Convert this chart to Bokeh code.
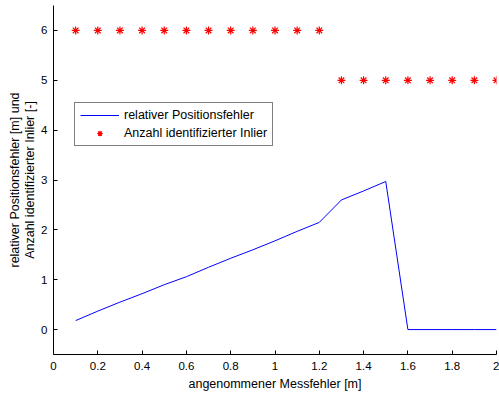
from bokeh.plotting import figure
from bokeh.models import Range1d, FixedTicker, Legend, LegendItem
from bokeh.embed import file_html
from bokeh.resources import INLINE

# data
messfehler = [0.1, 0.2, 0.3, 0.4, 0.5, 0.6, 0.7, 0.8, 0.9, 1.0,
              1.1, 1.2, 1.3, 1.4, 1.5, 1.6, 1.7, 1.8, 1.9, 2.0]
positionsfehler = [0.18, 0.37, 0.55, 0.72, 0.90, 1.06, 1.25, 1.43, 1.60, 1.78,
                   1.97, 2.15, 2.60, 2.78, 2.97, 0.0, 0.0, 0.0, 0.0, 0.0]
inlier = [6, 6, 6, 6, 6, 6, 6, 6, 6, 6,
          6, 6, 5, 5, 5, 5, 5, 5, 5, 5]
x_ticks = [0, 0.2, 0.4, 0.6, 0.8, 1, 1.2, 1.4, 1.6, 1.8, 2]
x_tick_labels = ["0", "0.2", "0.4", "0.6", "0.8", "1", "1.2", "1.4", "1.6", "1.8", "2"]
y_ticks = [0, 1, 2, 3, 4, 5, 6]

FONT = "Liberation Sans"

p = figure(width=499, height=394, output_backend="svg", toolbar_location=None,
           x_range=Range1d(0, 2), y_range=Range1d(-0.5, 6.5),
           min_border_left=53, min_border_right=3, min_border_top=5, min_border_bottom=40)
p.outline_line_color = None
p.xgrid.grid_line_color = None
p.ygrid.grid_line_color = None

r_line = p.line(messfehler, positionsfehler, line_color="#0000ff", line_width=1)
r_pts = p.scatter(messfehler, inlier, marker="asterisk", size=8, line_color="#ff0000", line_width=1.2)

for ax in (p.xaxis[0], p.yaxis[0]):
    ax.major_tick_in = 4
    ax.major_tick_out = 0
    ax.minor_tick_line_color = None
    ax.axis_line_color = "black"
    ax.major_tick_line_color = "black"
    ax.major_label_text_font = FONT
    ax.major_label_text_font_size = "11.5px"
    ax.major_label_text_color = "black"
    ax.axis_label_text_font = FONT
    ax.axis_label_text_font_size = "12.5px"
    ax.axis_label_text_font_style = "normal"
    ax.axis_label_text_color = "black"

p.xaxis[0].ticker = FixedTicker(ticks=x_ticks)
p.xaxis[0].major_label_overrides = {t: l for t, l in zip(x_ticks, x_tick_labels)}
p.xaxis[0].major_label_standoff = 7
p.xaxis[0].axis_label = "angenommener Messfehler [m]"
p.xaxis[0].axis_label_standoff = 4

p.yaxis[0].ticker = FixedTicker(ticks=y_ticks)
p.yaxis[0].major_label_standoff = 6
p.yaxis[0].axis_label = "relativer Positionsfehler [m] und\nAnzahl identifizierter Inlier [-]"
p.yaxis[0].axis_label_standoff = 1
p.yaxis[0].axis_label_text_line_height = 1.05

legend = Legend(items=[LegendItem(label="relativer Positionsfehler", renderers=[r_line]),
                       LegendItem(label="Anzahl identifizierter Inlier", renderers=[r_pts])],
                location=(21, 208))
legend.label_text_font = FONT
legend.label_text_font_size = "12.5px"
legend.label_text_color = "black"
legend.border_line_color = "black"
legend.border_line_width = 1
legend.background_fill_alpha = 1
legend.glyph_width = 39
legend.glyph_height = 14
legend.label_height = 14
legend.label_standoff = 5
legend.spacing = 4
legend.padding = 5
legend.margin = 0
p.add_layout(legend, "center")

open("out.html", "w").write(file_html(p, INLINE))
